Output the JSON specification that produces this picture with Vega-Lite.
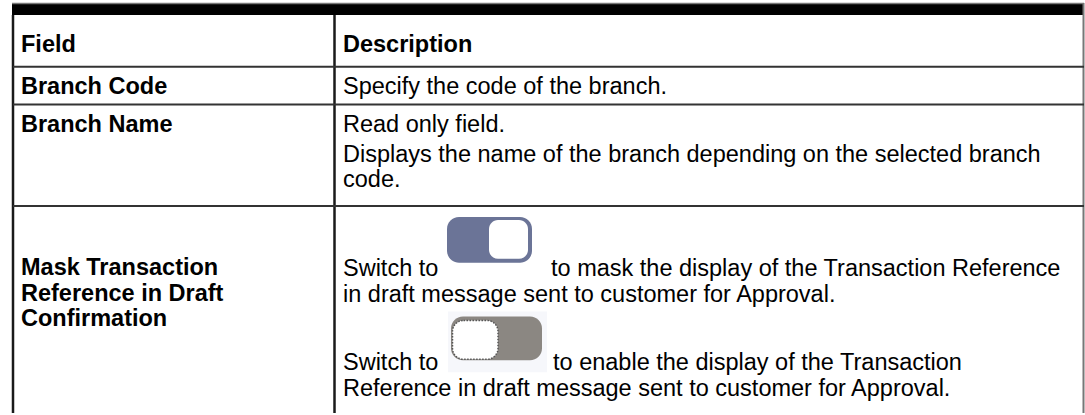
{
  "$schema": "https://vega.github.io/schema/vega-lite/v6.json",
  "width": 1085,
  "height": 415,
  "autosize": {"type": "fit", "contains": "padding"},
  "padding": 0,
  "background": "white",
  "config": {"view": {"stroke": null}},
  "datasets": {
    "boxes": [
      {"part": "band", "x": 12, "x2": 1084, "y": 3, "y2": 15, "c": "#000000"},
      {"part": "halo", "x": 448, "x2": 547, "y": 313, "y2": 374, "c": "#f6f7fb"},
      {"part": "toggle", "x": 447, "x2": 532, "y": 218, "y2": 264, "c": "#6b7497"},
      {"part": "toggle", "x": 451, "x2": 542, "y": 318, "y2": 362, "c": "#8b8782"},
      {"part": "knob", "x": 489, "x2": 528, "y": 221, "y2": 260, "c": "#ffffff"},
      {"part": "knob2", "x": 452.5, "x2": 498, "y": 322, "y2": 361, "c": "#ffffff"}
    ],
    "lines": [
      {"x": 13, "x2": 13, "y": 15, "y2": 415, "c": "#1a1a1a", "w": 2.5},
      {"x": 334.5, "x2": 334.5, "y": 15, "y2": 415, "c": "#1a1a1a", "w": 2.5},
      {"x": 1083.5, "x2": 1083.5, "y": 3, "y2": 415, "c": "#777777", "w": 2},
      {"x": 12, "x2": 1084, "y": 3.5, "y2": 3.5, "c": "#777777", "w": 1.5},
      {"x": 13, "x2": 1084, "y": 67, "y2": 67, "c": "#333333", "w": 2},
      {"x": 13, "x2": 1084, "y": 105, "y2": 105, "c": "#333333", "w": 2},
      {"x": 13, "x2": 1084, "y": 207, "y2": 207, "c": "#333333", "w": 2}
    ],
    "texts": [
      {"t": "Field", "x": 21, "y": 52, "k": "b"},
      {"t": "Description", "x": 343, "y": 52, "k": "b"},
      {"t": "Branch Code", "x": 21, "y": 94, "k": "b"},
      {"t": "Specify the code of the branch.", "x": 343, "y": 94, "k": "r"},
      {"t": "Branch Name", "x": 21, "y": 133, "k": "b"},
      {"t": "Read only field.", "x": 343, "y": 133, "k": "r"},
      {"t": "Displays the name of the branch depending on the selected branch", "x": 343, "y": 163, "k": "r"},
      {"t": "code.", "x": 343, "y": 188, "k": "r"},
      {"t": "Mask Transaction", "x": 21, "y": 276, "k": "b"},
      {"t": "Reference in Draft", "x": 21, "y": 302, "k": "b"},
      {"t": "Confirmation", "x": 21, "y": 328, "k": "b"},
      {"t": "Switch to", "x": 343, "y": 277, "k": "r"},
      {"t": "to mask the display of the Transaction Reference", "x": 551, "y": 277, "k": "r"},
      {"t": "in draft message sent to customer for Approval.", "x": 343, "y": 303, "k": "r"},
      {"t": "Switch to", "x": 343, "y": 372, "k": "r"},
      {"t": "to enable the display of the Transaction", "x": 553, "y": 372, "k": "r"},
      {"t": "Reference in draft message sent to customer for Approval.", "x": 343, "y": 398, "k": "r"}
    ]
  },
  "layer": [
    {
      "data": {"name": "boxes"},
      "transform": [{"filter": "datum.part == 'band' || datum.part == 'halo'"}],
      "mark": {"type": "rect"},
      "encoding": {
        "x": {"field": "x", "type": "quantitative", "scale": {"domain": [0, 1085], "nice": false, "zero": false}, "axis": null},
        "x2": {"field": "x2"},
        "y": {"field": "y", "type": "quantitative", "scale": {"domain": [0, 415], "nice": false, "zero": false, "reverse": true}, "axis": null},
        "y2": {"field": "y2"},
        "color": {"field": "c", "type": "nominal", "scale": null}
      }
    },
    {
      "data": {"name": "boxes"},
      "transform": [{"filter": "datum.part == 'toggle'"}],
      "mark": {"type": "rect", "cornerRadius": 12},
      "encoding": {
        "x": {"field": "x", "type": "quantitative", "axis": null},
        "x2": {"field": "x2"},
        "y": {"field": "y", "type": "quantitative", "axis": null},
        "y2": {"field": "y2"},
        "color": {"field": "c", "type": "nominal", "scale": null}
      }
    },
    {
      "data": {"name": "boxes"},
      "transform": [{"filter": "datum.part == 'knob'"}],
      "mark": {"type": "rect", "cornerRadius": 9},
      "encoding": {
        "x": {"field": "x", "type": "quantitative", "axis": null},
        "x2": {"field": "x2"},
        "y": {"field": "y", "type": "quantitative", "axis": null},
        "y2": {"field": "y2"},
        "color": {"field": "c", "type": "nominal", "scale": null}
      }
    },
    {
      "data": {"name": "boxes"},
      "transform": [{"filter": "datum.part == 'knob2'"}],
      "mark": {"type": "rect", "cornerRadius": 11, "stroke": "#555555", "strokeWidth": 1.5, "strokeDash": [1.5, 1.5]},
      "encoding": {
        "x": {"field": "x", "type": "quantitative", "axis": null},
        "x2": {"field": "x2"},
        "y": {"field": "y", "type": "quantitative", "axis": null},
        "y2": {"field": "y2"},
        "fill": {"field": "c", "type": "nominal", "scale": null}
      }
    },
    {
      "data": {"name": "lines"},
      "mark": {"type": "rule"},
      "encoding": {
        "x": {"field": "x", "type": "quantitative", "axis": null},
        "x2": {"field": "x2"},
        "y": {"field": "y", "type": "quantitative", "axis": null},
        "y2": {"field": "y2"},
        "color": {"field": "c", "type": "nominal", "scale": null},
        "strokeWidth": {"field": "w", "type": "quantitative", "scale": null}
      }
    },
    {
      "data": {"name": "texts"},
      "transform": [{"filter": "datum.k == 'b'"}],
      "mark": {"type": "text", "align": "left", "baseline": "alphabetic", "font": "Liberation Sans", "fontWeight": "bold", "fontSize": 23.5, "color": "#000000"},
      "encoding": {
        "x": {"field": "x", "type": "quantitative", "axis": null},
        "y": {"field": "y", "type": "quantitative", "axis": null},
        "text": {"field": "t"}
      }
    },
    {
      "data": {"name": "texts"},
      "transform": [{"filter": "datum.k == 'r'"}],
      "mark": {"type": "text", "align": "left", "baseline": "alphabetic", "font": "Liberation Sans", "fontSize": 23.5, "color": "#000000"},
      "encoding": {
        "x": {"field": "x", "type": "quantitative", "axis": null},
        "y": {"field": "y", "type": "quantitative", "axis": null},
        "text": {"field": "t"}
      }
    }
  ]
}
